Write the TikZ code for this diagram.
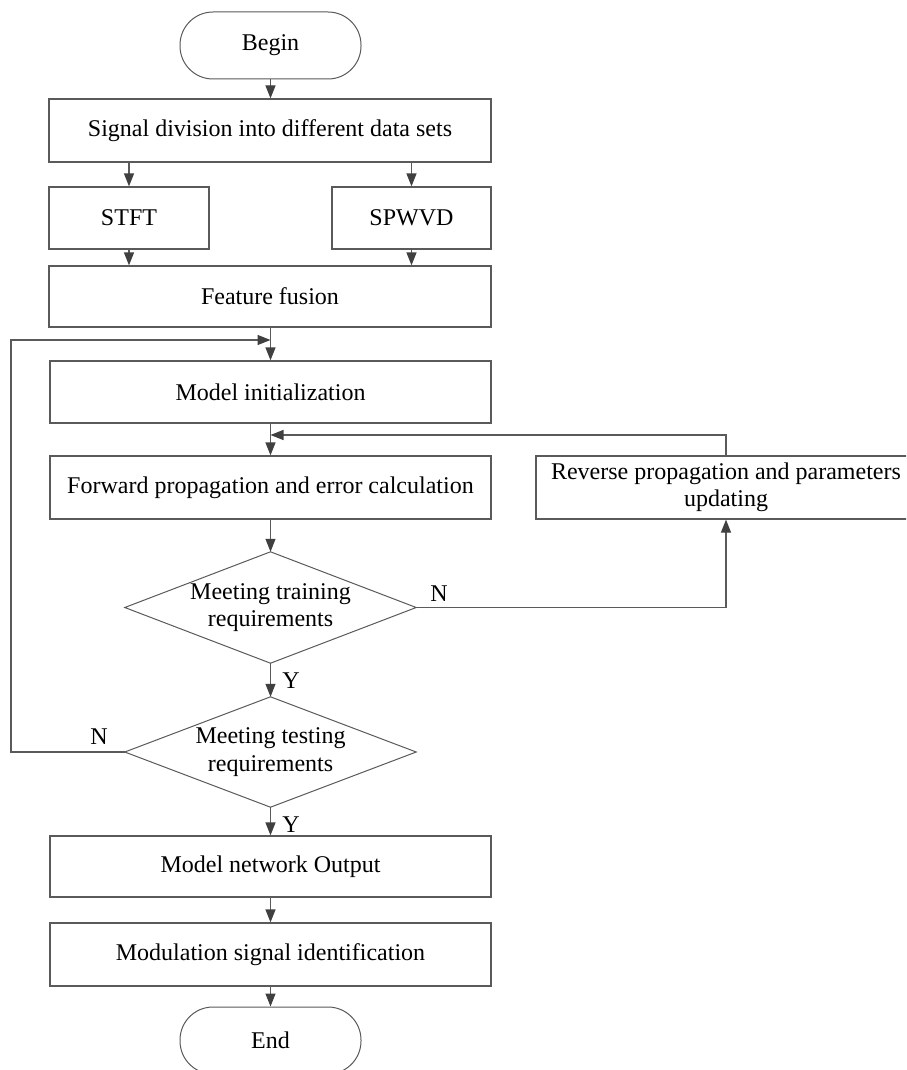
\documentclass[tikz,border=0pt]{standalone}
\usepackage{fontspec}
\setmainfont{Liberation Serif}
\usetikzlibrary{arrows.meta}
\definecolor{ln}{HTML}{5A5A5A}
\definecolor{tip}{HTML}{404040}
\tikzset{
  base/.style={font=\fontsize{24}{27.5}\selectfont, text=black, inner sep=0pt},
  box/.style={base, draw=ln, line width=1.2pt, minimum height=62pt, align=center},
  term/.style={base, draw=ln, line width=1pt, rounded corners=33pt, minimum width=181pt, minimum height=67pt},
  dframe/.style={inner sep=0pt},
  arr/.style={draw=ln, line width=1.2pt, -{Triangle[length=13pt,width=10pt,fill=tip,color=tip]}},
  ln/.style={draw=ln, line width=1.2pt},
  lab/.style={base}
}
\begin{document}
\begin{tikzpicture}[x=1pt,y=-1pt]
\useasboundingbox (0,0) rectangle (906,1070);
\fill[white] (0,0) rectangle (906,1070);
\clip (0,0) rectangle (906,1070);

\node[term] (begin) at (270.5,45.5) {Begin};
\node[box, minimum width=442pt, minimum height=63pt] (div) at (270,130.5) {Signal division into different data sets};
\node[box, minimum width=160pt] (stft) at (129,218) {STFT};
\node[box, minimum width=159pt] (spwvd) at (411.5,218) {SPWVD};
\node[box, minimum width=442pt, minimum height=61pt] (fus) at (270,296.5) {Feature fusion};
\node[box, minimum width=441pt] (init) at (270.5,392) {Model initialization};
\node[box, minimum width=441pt, minimum height=63pt] (fwd) at (270.5,487.5) {Forward propagation and error calculation};
\node[box, minimum width=380pt, minimum height=63pt] (rev) at (726,487.5) {Reverse propagation and parameters\\updating};

\node[dframe, minimum width=291pt, minimum height=111pt] (d1) at (270.5,607.5) {};
\draw[ln, line width=1pt] (d1.north) -- (d1.east) -- (d1.south) -- (d1.west) -- cycle;
\node[base, align=center] (d1t) at (d1.center) {Meeting training\\requirements};

\node[dframe, minimum width=291pt, minimum height=110pt] (d2) at (270.5,752) {};
\draw[ln, line width=1pt] (d2.north) -- (d2.east) -- (d2.south) -- (d2.west) -- cycle;
\node[base, align=center] (d2t) at (d2.center) {Meeting testing\\requirements};

\node[box, minimum width=441pt, minimum height=61pt] (out) at (270.5,866.5) {Model network Output};
\node[box, minimum width=441pt, minimum height=63pt] (mod) at (270.5,954.5) {Modulation signal identification};
\node[term] (end) at (270.5,1040.5) {End};

% connectors
\draw[arr] (begin.south) -- (div.north -| begin.south);
\draw[arr] (div.south -| stft.north) -- (stft.north);
\draw[arr] (div.south -| spwvd.north) -- (spwvd.north);
\draw[arr] (stft.south) -- (fus.north -| stft.south);
\draw[arr] (spwvd.south) -- (fus.north -| spwvd.south);
\draw[arr] (fus.south -| init.north) -- (init.north);
\draw[arr] (init.south) -- (fwd.north);
\draw[arr] (fwd.south) -- (d1.north);
\draw[arr] (d1.south) -- (d2.north);
\draw[arr] (d2.south) -- (out.north);
\draw[arr] (out.south) -- (mod.north);
\draw[arr] (mod.south) -- (end.north);

\draw[arr] (d1.east) -| (rev.south);
\coordinate (fb) at (726,435);
\draw[arr] (rev.north) -- (fb) -- (fwd.north |- fb);
\coordinate (lp) at (11,340);
\draw[arr] (d2.west) -| (lp) -- (init.north |- lp);

% labels
\node[lab] (n1) at (439,594) {N};
\node[lab] (y1) at (291,681) {Y};
\node[lab] (n2) at (99,737) {N};
\node[lab] (y2) at (291,825) {Y};
\end{tikzpicture}
\end{document}
